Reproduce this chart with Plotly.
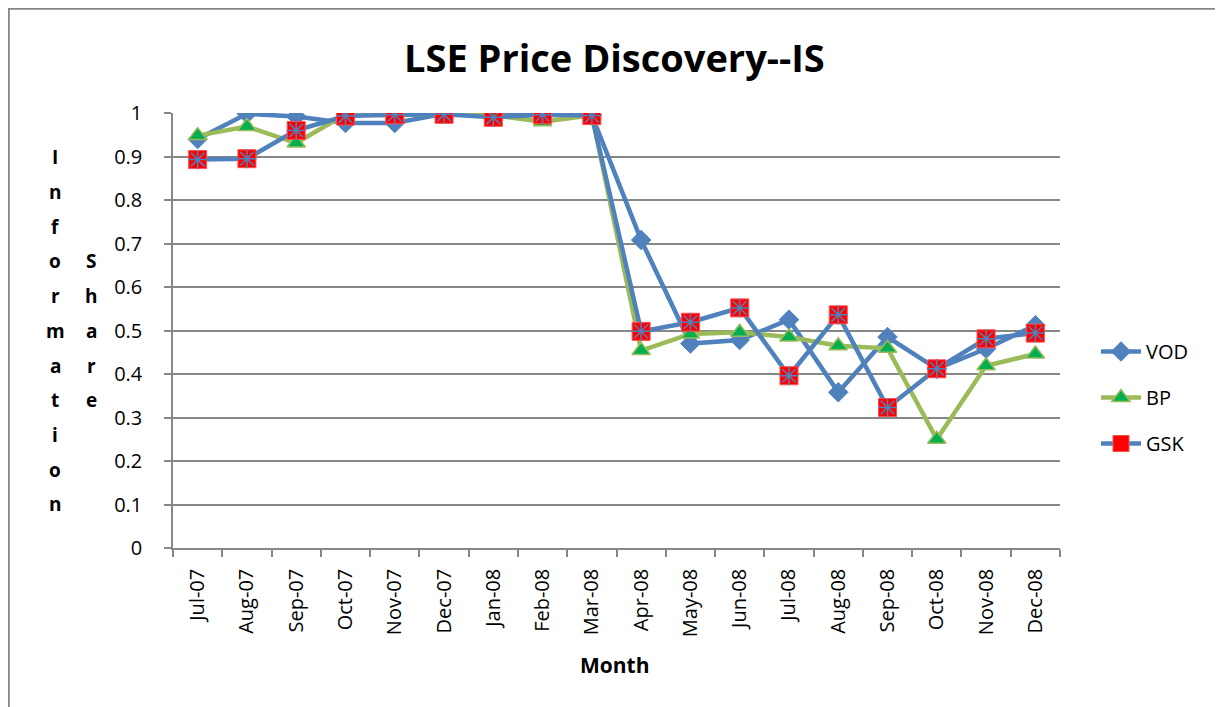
import plotly.graph_objects as go

months = ["Jul-07", "Aug-07", "Sep-07", "Oct-07", "Nov-07", "Dec-07", "Jan-08", "Feb-08", "Mar-08",
          "Apr-08", "May-08", "Jun-08", "Jul-08", "Aug-08", "Sep-08", "Oct-08", "Nov-08", "Dec-08"]
vod = [0.940, 0.998, 0.992, 0.977, 0.977, 0.998, 0.997, 0.996, 0.995,
       0.708, 0.470, 0.478, 0.525, 0.358, 0.485, 0.412, 0.458, 0.512]
bp = [0.948, 0.969, 0.931, 0.997, 0.995, 0.998, 0.995, 0.980, 0.995,
      0.454, 0.492, 0.496, 0.485, 0.465, 0.459, 0.250, 0.419, 0.446]
gsk = [0.893, 0.895, 0.960, 0.993, 0.996, 0.997, 0.990, 0.996, 0.994,
       0.498, 0.519, 0.552, 0.396, 0.536, 0.323, 0.412, 0.481, 0.494]
y_ticks = [0, 0.1, 0.2, 0.3, 0.4, 0.5, 0.6, 0.7, 0.8, 0.9, 1]
y_tick_text = ["0", "0.1", "0.2", "0.3", "0.4", "0.5", "0.6", "0.7", "0.8", "0.9", "1"]

BLUE = "#4F81BD"
GREEN_LINE = "#9BBB59"
GREEN_FILL = "#00B050"
RED = "#FF0000"
GRID = "#878787"
FONT = "Open Sans"

OFF = 8                      # default page margin of the html body
PAGE_W, PAGE_H = 1223, 707
W, H = PAGE_W - OFF, PAGE_H - OFF
L, R, T, B = 173, 1060, 113, 548   # plot area in page pixels

def px(x):
    return (x - L) / (R - L)

def py(y):
    return (B - y) / (B - T)

fig = go.Figure()
fig.add_trace(go.Scatter(
    x=months, y=vod, name="VOD", mode="lines+markers", legendgroup="vod",
    line=dict(color=BLUE, width=4.5),
    marker=dict(symbol="diamond", size=15, color=BLUE, line=dict(color=BLUE, width=1))))
fig.add_trace(go.Scatter(
    x=months, y=bp, name="BP", mode="lines+markers", legendgroup="bp",
    line=dict(color=GREEN_LINE, width=4.5),
    marker=dict(symbol="triangle-up", size=16, color=GREEN_FILL, line=dict(color=GREEN_LINE, width=1.5))))
fig.add_trace(go.Scatter(
    x=months, y=gsk, name="GSK", mode="lines+markers", legendgroup="gsk",
    line=dict(color=BLUE, width=4.5),
    marker=dict(symbol="square", size=18, color=RED, line=dict(color="#FF5050", width=1))))
fig.add_trace(go.Scatter(
    x=months, y=gsk, name="GSK", mode="markers", legendgroup="gsk", showlegend=False,
    marker=dict(symbol="asterisk-open", size=16, color=BLUE, line=dict(color=BLUE, width=1.5))))

annotations = [
    dict(text="<b>LSE Price Discovery--IS</b>", x=px(614), y=py(57), xref="paper", yref="paper",
         xanchor="center", yanchor="middle", showarrow=False,
         font=dict(family=FONT, size=38, color="black")),
    dict(text="<b>Month</b>", x=px(615), y=py(665), xref="paper", yref="paper",
         xanchor="center", yanchor="middle", showarrow=False,
         font=dict(family=FONT, size=21, color="black")),
]
info = "Information"
for i, ch in enumerate(info):
    annotations.append(dict(text="<b>" + ch + "</b>", x=px(55), y=py(163.3 + 34.7 * i), xref="paper", yref="paper",
                            xanchor="center", yanchor="bottom", showarrow=False, yshift=-9,
                            font=dict(family=FONT, size=19, color="black")))
share = "Share"
for i, ch in enumerate(share):
    annotations.append(dict(text="<b>" + ch + "</b>", x=px(91), y=py(163.3 + 34.7 * (i + 3)), xref="paper", yref="paper",
                            xanchor="center", yanchor="bottom", showarrow=False, yshift=-9,
                            font=dict(family=FONT, size=19, color="black")))

# chart frame: top and left edges (the page margin puts them at the figure's very edge)
shapes = [
    dict(type="line", xref="paper", yref="paper", x0=px(OFF), x1=px(PAGE_W + 10), y0=py(OFF + 0.8), y1=py(OFF + 0.8),
         line=dict(color="#878787", width=2)),
    dict(type="line", xref="paper", yref="paper", x0=px(OFF + 0.8), x1=px(OFF + 0.8), y0=py(OFF), y1=py(PAGE_H + 10),
         line=dict(color="#878787", width=2)),
]

fig.update_layout(
    width=W, height=H,
    margin=dict(l=L - OFF, r=PAGE_W - R, t=T - OFF, b=PAGE_H - B, pad=0),
    paper_bgcolor="white", plot_bgcolor="white",
    font=dict(family=FONT, size=20, color="black"),
    showlegend=True,
    legend=dict(x=px(1096), y=py(332), xanchor="left", yanchor="top",
                font=dict(family=FONT, size=20, color="black"),
                tracegroupgap=17, itemwidth=40, bgcolor="rgba(0,0,0,0)"),
    annotations=annotations,
    shapes=shapes,
)
fig.update_xaxes(
    type="category", tickson="boundaries", ticks="outside", ticklen=7, tickcolor=GRID, tickwidth=1.5,
    showline=True, linecolor=GRID, linewidth=1.5, showgrid=False, zeroline=False,
    tickangle=-90, tickfont=dict(family=FONT, size=20, color="black"), range=[-0.5, 17.5],
    ticklabelstandoff=11,
)
fig.update_yaxes(
    range=[0, 1], tickvals=y_ticks, ticktext=y_tick_text, ticks="outside", ticklen=7,
    tickcolor=GRID, tickwidth=1.5, showline=True, linecolor=GRID, linewidth=1.5,
    showgrid=True, gridcolor=GRID, gridwidth=1.5, zeroline=False,
    tickfont=dict(family=FONT, size=20, color="black"), ticklabelstandoff=18,
)

fig.write_html("out.html")
